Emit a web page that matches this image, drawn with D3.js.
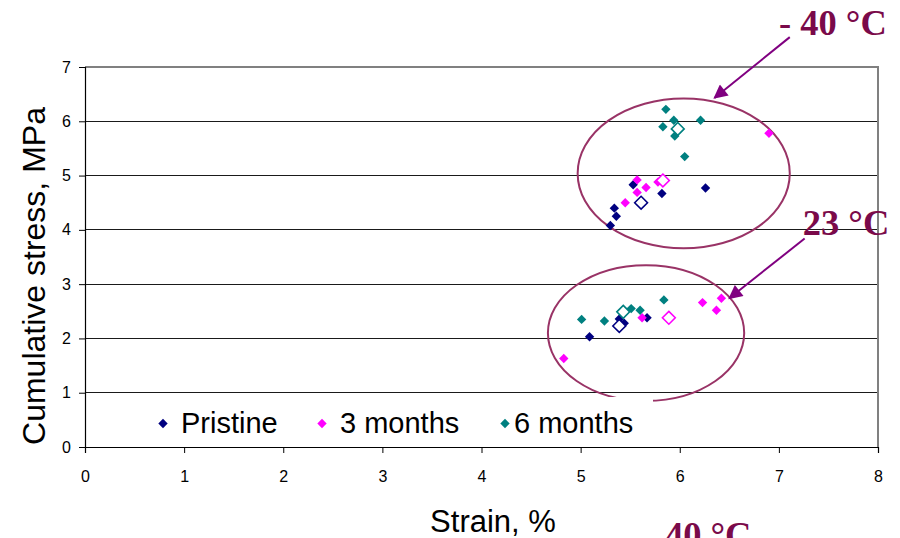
<!DOCTYPE html>
<html>
<head>
<meta charset="utf-8">
<script src="https://cdn.jsdelivr.net/npm/d3@7"></script>
<style>
  html, body { margin: 0; padding: 0; background: #fff; }
  svg { display: block; }
</style>
</head>
<body>
<svg id="chart" width="900" height="538"></svg>
<script>
// Strain (%) vs cumulative stress (MPa) per specimen, by ageing time
const seriesNames = ["Pristine", "3 months", "6 months"];
const seriesColors = ["#000080", "#ff00ff", "#008080"];

const pristine = [
  [5.53, 4.83], [5.82, 4.67], [6.26, 4.77], [5.34, 4.40], [5.36, 4.25], [5.30, 4.08],
  [5.09, 2.03], [5.39, 2.36], [5.44, 2.28], [5.67, 2.38]
];
const months3 = [
  [5.57, 4.92], [5.78, 4.88], [5.66, 4.78], [5.57, 4.69], [5.45, 4.50], [6.90, 5.78],
  [4.83, 1.63], [5.62, 2.38], [6.23, 2.66], [6.42, 2.74], [6.37, 2.52]
];
const months6 = [
  [5.86, 6.22], [5.94, 6.02], [6.21, 6.02], [5.83, 5.90], [5.95, 5.73], [6.05, 5.35],
  [5.01, 2.35], [5.24, 2.32], [5.51, 2.55], [5.60, 2.52], [5.84, 2.71]
];

// Average of each group (open markers): [-40 °C, 23 °C]
const pristineMean = [[5.61, 4.50], [5.39, 2.23]];
const months3Mean = [[5.83, 4.91], [5.89, 2.38]];
const months6Mean = [[5.98, 5.86], [5.43, 2.49]];

const xTicks = [0, 1, 2, 3, 4, 5, 6, 7, 8];
const yTicks = [0, 1, 2, 3, 4, 5, 6, 7];

// Temperature groups: ellipse [cx, cy, rx, ry] in data units, label and arrow
const groupEllipses = [[6.04, 5.04, 1.07, 1.38], [5.66, 2.10, 0.99, 1.25]];
const groupLabels = [
  { text: "- 40 °C", at: [7.0, 7.59], arrow: [[7.11, 7.55], [6.35, 6.43]] },
  { text: "23 °C", at: [7.24, 3.90], arrow: [[7.26, 3.84], [6.50, 2.74]] },
  { text: "40 °C", at: [5.85, -1.84], arrow: null }
];

const svg = d3.select("#chart");
const margin = { left: 85, right: 22, top: 67, bottom: 91 };
const W = 900, H = 538;
const x = d3.scaleLinear().domain([0, 8]).range([margin.left, W - margin.right]);
const y = d3.scaleLinear().domain([0, 7]).range([H - margin.bottom, margin.top]);

const defs = svg.append("defs");
defs.append("marker")
  .attr("id", "arrowhead")
  .attr("viewBox", "0 0 10 10")
  .attr("refX", 9).attr("refY", 5)
  .attr("markerWidth", 8).attr("markerHeight", 7)
  .attr("markerUnits", "strokeWidth")
  .attr("orient", "auto")
  .append("path").attr("d", "M0,0 L10,5 L0,10 Z").attr("fill", "#800080");

// Horizontal gridlines
svg.append("g").selectAll("line")
  .data(yTicks.filter(d => d > 0 && d < 7))
  .join("line")
  .attr("x1", x(0)).attr("x2", x(8))
  .attr("y1", d => y(d)).attr("y2", d => y(d))
  .attr("stroke", "#1a1a1a").attr("stroke-width", 1)
  .attr("shape-rendering", "crispEdges");

// Plot frame (top and right)
svg.append("path")
  .attr("d", `M${x(0)},${y(7)} H${x(8)} V${y(0)}`)
  .attr("fill", "none").attr("stroke", "#808080").attr("stroke-width", 1.5)
  .attr("shape-rendering", "crispEdges");

// Axes
const yAxis = svg.append("g")
  .attr("transform", `translate(${x(0)},0)`)
  .call(d3.axisLeft(y).tickValues(yTicks).tickSize(6).tickPadding(8).tickFormat(d3.format("d")));
const xAxis = svg.append("g")
  .attr("transform", `translate(0,${y(0)})`)
  .call(d3.axisBottom(x).tickValues(xTicks).tickSize(6).tickPadding(18).tickFormat(d3.format("d")));
[xAxis, yAxis].forEach(a => {
  a.select(".domain").attr("stroke", "#000").attr("stroke-width", 1.2);
  a.selectAll(".tick line").attr("stroke", "#000");
  a.selectAll(".tick text")
    .attr("fill", "#000")
    .style("font-family", "'Liberation Sans', Arial, sans-serif")
    .style("font-size", "16px");
});

// Group ellipses
svg.append("g").selectAll("ellipse")
  .data(groupEllipses)
  .join("ellipse")
  .attr("cx", d => x(d[0])).attr("cy", d => y(d[1]))
  .attr("rx", d => x(d[2]) - x(0)).attr("ry", d => y(0) - y(d[3]))
  .attr("fill", "none").attr("stroke", "#993366").attr("stroke-width", 2);

// Data points
const symFilled = d3.symbol().type(d3.symbolDiamond2).size(56);
const symOpen = d3.symbol().type(d3.symbolDiamond2).size(105);
const filledSets = [pristine, months3, months6];
const meanSets = [pristineMean, months3Mean, months6Mean];
const pts = svg.append("g");
filledSets.forEach((set, i) => {
  pts.append("g").selectAll("path")
    .data(set).join("path")
    .attr("d", symFilled)
    .attr("transform", d => `translate(${x(d[0])},${y(d[1])})`)
    .attr("fill", seriesColors[i]);
});
meanSets.forEach((set, i) => {
  pts.append("g").selectAll("path")
    .data(set).join("path")
    .attr("d", symOpen)
    .attr("transform", d => `translate(${x(d[0])},${y(d[1])})`)
    .attr("fill", "#fff")
    .attr("stroke", seriesColors[i]).attr("stroke-width", 1.6);
});

// Legend
const legend = svg.append("g");
legend.append("rect")
  .attr("x", 150).attr("y", 397).attr("width", 503).attr("height", 48)
  .attr("fill", "#fff");
const legendX = [163, 322, 505];
const legendTextX = [181, 340, 514];
seriesNames.forEach((name, i) => {
  legend.append("path")
    .attr("d", symFilled)
    .attr("transform", `translate(${legendX[i]},423.5)`)
    .attr("fill", seriesColors[i]);
  legend.append("text")
    .attr("x", legendTextX[i]).attr("y", 433)
    .style("font-family", "'Liberation Sans', Arial, sans-serif")
    .style("font-size", "29px")
    .attr("fill", "#000")
    .text(name);
});

// Axis titles
svg.append("text")
  .attr("x", 493).attr("y", 532)
  .attr("text-anchor", "middle")
  .style("font-family", "'Liberation Sans', Arial, sans-serif")
  .style("font-size", "31px")
  .text("Strain, %");
svg.append("text")
  .attr("transform", "translate(45,276) rotate(-90)")
  .attr("text-anchor", "middle")
  .style("font-family", "'Liberation Sans', Arial, sans-serif")
  .style("font-size", "32px")
  .text("Cumulative stress, MPa");

// Temperature labels and arrows
const ann = svg.append("g");
groupLabels.forEach(g => {
  if (g.arrow) {
    ann.append("line")
      .attr("x1", x(g.arrow[0][0])).attr("y1", y(g.arrow[0][1]))
      .attr("x2", x(g.arrow[1][0])).attr("y2", y(g.arrow[1][1]))
      .attr("stroke", "#800080").attr("stroke-width", 2)
      .attr("marker-end", "url(#arrowhead)");
  }
  ann.append("text")
    .attr("x", x(g.at[0])).attr("y", y(g.at[1]))
    .style("font-family", "'Liberation Serif', 'Times New Roman', serif")
    .style("font-size", "36.5px")
    .style("font-weight", "bold")
    .attr("fill", "#7a0a4a")
    .text(g.text);
});
</script>
</body>
</html>
